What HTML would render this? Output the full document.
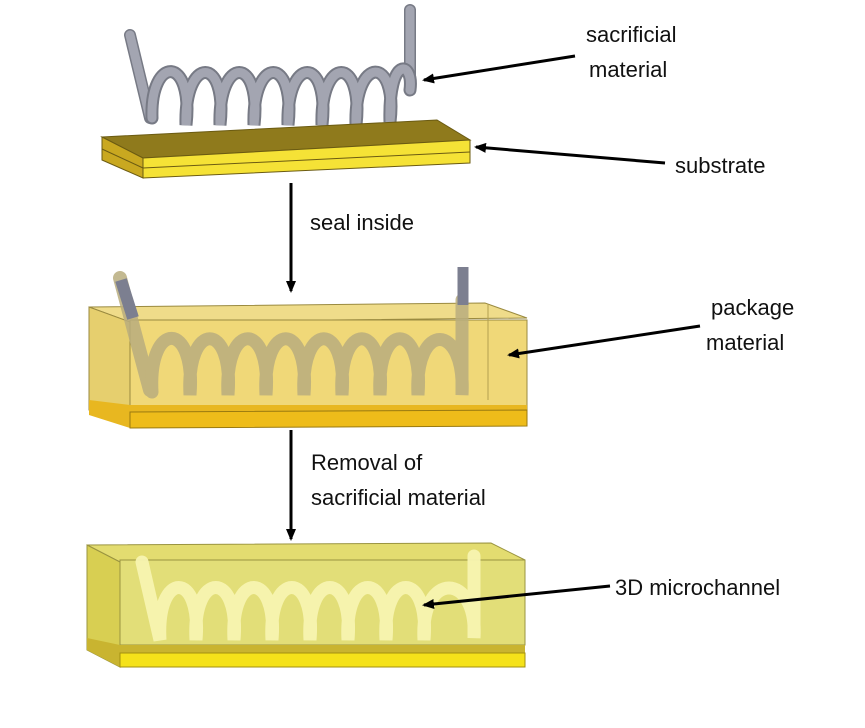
<!DOCTYPE html>
<html><head><meta charset="utf-8"><style>
html,body{margin:0;padding:0;background:#fff;}
svg{display:block}
text{font-family:"Liberation Sans",sans-serif;font-size:22px;fill:#111}
</style></head><body>
<svg width="865" height="728" viewBox="0 0 865 728" xmlns="http://www.w3.org/2000/svg">
<defs>
<marker id="ah" markerWidth="12" markerHeight="10" refX="10" refY="5" orient="auto" markerUnits="userSpaceOnUse">
<path d="M0,0 L12,5 L0,10 Z" fill="#000"/></marker>
</defs>

<!-- TOP: spring -->
<g fill="none" stroke-linecap="round">
<path d="M130,35 L150,118" stroke="#777a85" stroke-width="12"/>
<path d="M130,35 L150,118" stroke="#a3a5b1" stroke-width="9"/>
<path d="M410,10 L410,90" stroke="#777a85" stroke-width="12"/>
<path d="M410,10 L410,90" stroke="#a3a5b1" stroke-width="9"/>
<path d="M152,118 C150,55 194,55 186,125 C184,55 228,55 220,125 C218,55 262,55 254,125 C252,55 296,55 288,125 C286,55 330,55 322,125 C320,55 364,55 356,125 C354,55 398,55 390,122 C388,55 414,60 410,90" stroke="#777a85" stroke-width="13"/>
<path d="M152,118 C150,55 194,55 186,125 C184,55 228,55 220,125 C218,55 262,55 254,125 C252,55 296,55 288,125 C286,55 330,55 322,125 C320,55 364,55 356,125 C354,55 398,55 390,122 C388,55 414,60 410,90" stroke="#a3a5b1" stroke-width="9"/>
</g>
<!-- substrate -->
<polygon points="102,137 437,120 470,140 143,158" fill="#8f7a1c" stroke="#6b5b12" stroke-width="1"/>
<polygon points="102,137 143,158 143,178 102,160" fill="#c9a820" stroke="#6b5b12" stroke-width="1"/>
<polygon points="143,158 470,140 470,163 143,178" fill="#f5e236" stroke="#6b5b12" stroke-width="1"/>
<line x1="102" y1="149" x2="143" y2="168" stroke="#6b5b12"/>
<line x1="143" y1="168" x2="470" y2="152" stroke="#6b5b12"/>

<!-- MIDDLE box -->
<polygon points="89,307 485,303 527,318 130,322" fill="#efdc8a" stroke="#9a8a40" stroke-width="1"/>
<polygon points="89,307 130,322 130,426 89,410" fill="#e6cf6e" stroke="#9a8a40" stroke-width="1"/>
<rect x="130" y="320" width="397" height="90" fill="#f0d878" stroke="#9a8a40" stroke-width="1"/>
<line x1="488" y1="304" x2="488" y2="400" stroke="#b3a050"/>
<polygon points="89,400 130,405 527,405 527,426 130,428 89,415" fill="#e8b720"/>
<polygon points="130,412 527,410 527,426 130,428" fill="#eebc1a" stroke="#9a7a10" stroke-width="1"/>
<g fill="none" stroke-linecap="round" opacity="0.85">
<path d="M120,278 L150,390" stroke="#b9ad7e" stroke-width="14"/>
<path d="M152,392 C148,320 196,320 190,395 C186,320 234,320 228,395 C224,320 272,320 266,395 C262,320 310,320 304,395 C300,320 348,320 342,395 C338,320 386,320 380,395 C376,320 424,320 418,395 C414,320 466,322 462,395 L462,300" stroke="#b9ad7e" stroke-width="13"/>
</g>
<path d="M121,280 L133,318" stroke="#7c7f90" stroke-width="12"/>
<path d="M463,267 L463,305" stroke="#7c7f90" stroke-width="11"/>

<!-- BOTTOM box -->
<polygon points="87,545 491,543 525,560 120,562" fill="#e3dc70" stroke="#9a9440" stroke-width="1"/>
<polygon points="87,545 120,562 120,667 87,650" fill="#d8cf52" stroke="#9a9440" stroke-width="1"/>
<rect x="120" y="560" width="405" height="85" fill="#e2de78" stroke="#9a9440" stroke-width="1"/>
<polygon points="87,638 120,645 525,645 525,667 120,667 87,650" fill="#c9b430"/>
<rect x="120" y="653" width="405" height="14" fill="#f5e21a" stroke="#a29010" stroke-width="1"/>
<g fill="none" stroke-linecap="round" stroke="#f7f3b0" stroke-width="13" opacity="0.95">
<path d="M142,562 L160,640 C156,570 202,570 196,640 C192,570 240,570 234,640 C230,570 278,570 272,640 C268,570 316,570 310,640 C306,570 354,570 348,640 C344,570 392,570 386,640 C382,570 430,570 424,640 C420,570 478,572 474,638 L474,556"/>
</g>

<!-- arrows -->
<line x1="291" y1="183" x2="291" y2="291" stroke="#000" stroke-width="3" marker-end="url(#ah)"/>
<line x1="291" y1="430" x2="291" y2="539" stroke="#000" stroke-width="3" marker-end="url(#ah)"/>
<line x1="575" y1="56" x2="424" y2="80" stroke="#000" stroke-width="3" marker-end="url(#ah)"/>
<line x1="665" y1="163" x2="476" y2="147" stroke="#000" stroke-width="3" marker-end="url(#ah)"/>
<line x1="700" y1="326" x2="509" y2="355" stroke="#000" stroke-width="3" marker-end="url(#ah)"/>
<line x1="610" y1="586" x2="424" y2="605" stroke="#000" stroke-width="3" marker-end="url(#ah)"/>

<!-- labels -->
<text x="586" y="42">sacrificial</text>
<text x="589" y="77">material</text>
<text x="675" y="173">substrate</text>
<text x="310" y="230">seal inside</text>
<text x="711" y="315">package</text>
<text x="706" y="350">material</text>
<text x="311" y="470">Removal of</text>
<text x="311" y="505">sacrificial material</text>
<text x="615" y="595">3D microchannel</text>
</svg>
</body></html>
